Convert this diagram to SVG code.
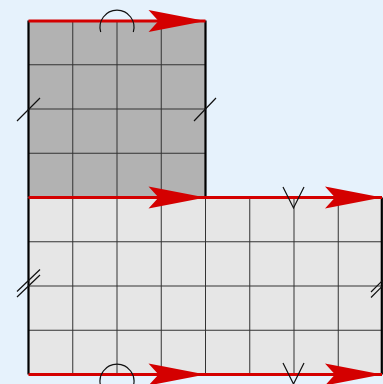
<svg xmlns="http://www.w3.org/2000/svg" width="383" height="384" viewBox="0 0 383 384">
<defs>
<style>
.grid{stroke:#333;stroke-width:1;fill:none}
.edge{stroke:#000;stroke-width:2.2;fill:none}
.red{stroke:#d40000;stroke-width:3;fill:none}
.head{fill:#d40000;stroke:none}
.mark{stroke:#111;stroke-width:1.2;fill:none}
</style>
<path id="ah" class="head" d="M0,0 L-57,-11 L-47,0 L-57,11 Z"/>
</defs>
<rect width="383" height="384" fill="#e6f2fc"/>
<g id="upper-square">
<rect x="28.5" y="20.5" width="177" height="177" fill="#b2b2b2"/>
<path class="grid" d="M72.75,20.5V197.5M117,20.5V197.5M161.25,20.5V197.5M28.5,64.75H205.5M28.5,109H205.5M28.5,153.25H205.5"/>
<path class="edge" d="M28.5,20.5V197.5M205.5,20.5V197.5"/>
</g>
<g id="lower-rect">
<rect x="28.5" y="197.5" width="353.5" height="177" fill="#e6e6e6"/>
<path class="grid" d="M72.75,197.5V374.5M117,197.5V374.5M161.25,197.5V374.5M205.5,197.5V374.5M249.75,197.5V374.5M294,197.5V374.5M338.25,197.5V374.5M28.5,241.75H382M28.5,286H382M28.5,330.25H382"/>
<path class="edge" d="M28.5,197.5V374.5M381.8,197.5V374.5"/>
</g>
<g id="connectors">
<path class="red" d="M28.5,21H205.5"/>
<use href="#ah" x="205.5" y="21"/>
<path class="red" d="M28.5,197.5H382"/>
<use href="#ah" x="205.5" y="197.5"/>
<use href="#ah" x="382" y="197.5"/>
<path class="red" d="M28.5,374.5H382"/>
<use href="#ah" x="205.5" y="374.5"/>
<use href="#ah" x="382" y="374.5"/>
</g>
<g id="marks">
<path class="mark" d="M17,121L40,98M194,121L216,98"/>
<path class="mark" d="M17,291.5L40,269.5M17,297L40,275M371,292L393,270M371,297.5L393,275.5"/>
<path class="mark" d="M100.7,32A17,17 0 1 1 133.3,32"/>
<path class="mark" d="M100.7,386A17,17 0 1 1 133.3,386"/>
<path class="mark" d="M283,187L293.5,208L304,187"/>
<path class="mark" d="M283,363L293.5,384L304,363"/>
</g>
</svg>
